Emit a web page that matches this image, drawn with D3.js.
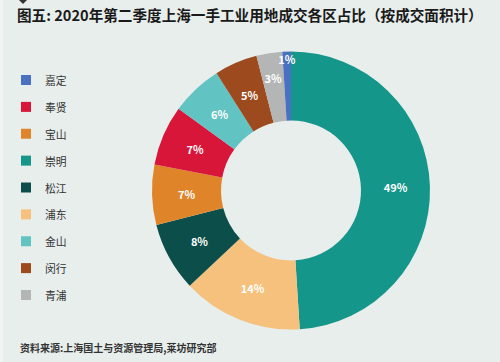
<!DOCTYPE html>
<html><head><meta charset="utf-8">
<script src="https://cdn.jsdelivr.net/npm/d3@7"></script>
<style>
html,body{margin:0;padding:0;background:#e8eeec;}
svg{display:block;}
</style></head>
<body>
<script>
const categories = ["嘉定","奉贤","宝山","崇明","松江","浦东","金山","闵行","青浦"];
const colors = ["#4a70c2","#d8163a","#e0842a","#14968b","#0c4f4a","#f5c17c","#62c3c3","#9d4a1f","#b4b5b5"];
// slice order clockwise from 12 o'clock
const sliceOrder = ["崇明","浦东","松江","宝山","奉贤","金山","闵行","青浦","嘉定"];
const sliceValues = [49,14,8,7,7,6,5,3,1];
const title = "图五: 2020年第二季度上海一手工业用地成交各区占比（按成交面积计）";
const source = "资料来源:上海国土与资源管理局,莱坊研究部";

const W = 500, H = 362;
const svg = d3.select("body").append("svg").attr("width", W).attr("height", H);
svg.append("rect").attr("width", W).attr("height", H).attr("fill", "#e8eeec");
svg.append("rect").attr("x",0).attr("y",0).attr("width",3).attr("height",H).attr("fill","#f1f4f3");
svg.append("path").attr("d","M19,0 L27,0 L23,4 Z").attr("fill","#333");

const font = "'Noto Sans CJK SC', 'Noto Sans', sans-serif";
svg.append("text").attr("x", 17).attr("y", 21)
  .attr("font-family", font).attr("font-weight", 700).attr("font-size", 14.6)
  .attr("fill", "#1a1a1a").text(title);

const color = d3.scaleOrdinal().domain(categories).range(colors);

// legend
const legendY = d3.scalePoint().domain(categories).range([80, 295]);
const lg = svg.append("g");
categories.forEach(c => {
  lg.append("rect").attr("x", 21).attr("y", legendY(c) - 5).attr("width", 10).attr("height", 10)
    .attr("fill", color(c));
  lg.append("text").attr("x", 45).attr("y", legendY(c)).attr("dominant-baseline", "central")
    .attr("font-family", font).attr("font-size", 10.8).attr("fill", "#333").text(c);
});

// donut
const data = sliceOrder.map((c, i) => ({name: c, value: sliceValues[i]}));
const pie = d3.pie().value(d => d.value).sort(null);
const arcs = pie(data);
const arc = d3.arc().innerRadius(70).outerRadius(139);
const g = svg.append("g").attr("transform", "translate(291,190.5)");
g.selectAll("path").data(arcs).join("path")
  .attr("d", arc).attr("fill", d => color(d.data.name));
function labelPos(d) {
  let r = 104.5;
  if (d.data.value <= 1) r = 132;
  else if (d.data.value <= 3) r = 114;
  const a = (d.startAngle + d.endAngle) / 2;
  return [r * Math.sin(a), -r * Math.cos(a)];
}
g.selectAll("text").data(arcs).join("text")
  .attr("transform", d => `translate(${labelPos(d)})`)
  .attr("text-anchor", "middle").attr("dominant-baseline", "central")
  .attr("font-family", font).attr("font-weight", 700).attr("font-size", 11)
  .attr("fill", "#fff")
  .text(d => d.data.value + "%");

svg.append("text").attr("x", 20).attr("y", 352)
  .attr("font-family", font).attr("font-weight", 700).attr("font-size", 10)
  .attr("fill", "#333").text(source);
</script>
</body></html>
